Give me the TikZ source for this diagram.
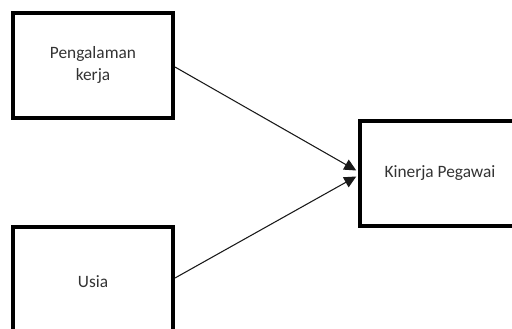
\documentclass[tikz,border=0pt]{standalone}
\usepackage{fontspec}
\setmainfont{Carlito}
\usetikzlibrary{arrows.meta, positioning}
\tikzstyle{kotak} = [draw=black, line width=3pt, rectangle, align=center, font=\fontsize{13}{16}\selectfont, text=black!80]
\tikzstyle{panah} = [draw=black!90, line width=0.8pt, -{Triangle[length=9pt,width=8.5pt]}, shorten >=1.5pt]

\begin{document}
\begin{tikzpicture}[x=0.75pt, y=-0.75pt]
	\useasboundingbox (0,0) rectangle (512,329);
	\clip (0,0) rectangle (512,329);
	\node [kotak, minimum width=120pt, minimum height=78.75pt] (pengalaman) at (93,65) {Pengalaman\\kerja};
	\node [kotak, minimum width=120pt, minimum height=82.5pt] (usia) at (93,282) {Usia};
	\node [kotak, minimum width=120pt, minimum height=79pt] (kinerja) at (440,173.5) {Kinerja Pegawai};
	\draw [panah] ([yshift=-1.5pt]pengalaman.east) -- ([yshift=1.5pt]kinerja.west);
	\draw [panah] ([yshift=3pt]usia.east) -- ([yshift=-1.5pt]kinerja.west);
\end{tikzpicture}
\end{document}
